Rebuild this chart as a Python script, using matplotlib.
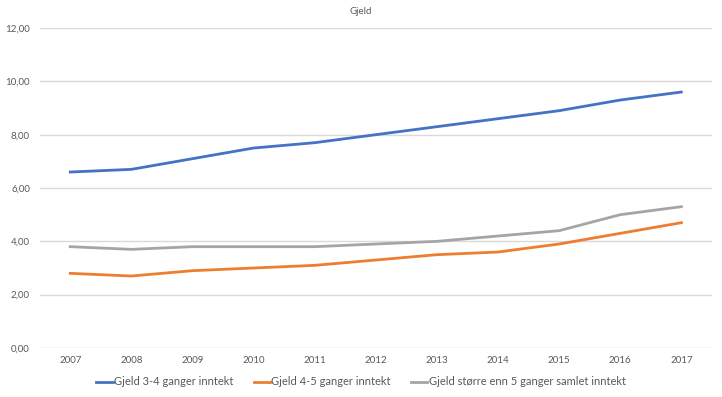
import matplotlib

matplotlib.use("Agg")
import matplotlib.pyplot as plt
import numpy as np

years = ["2007", "2008", "2009", "2010", "2011", "2012",
         "2013", "2014", "2015", "2016", "2017"]
gjeld_3_4 = [6.6, 6.7, 7.1, 7.5, 7.7, 8.0, 8.3, 8.6, 8.9, 9.3, 9.6]
gjeld_4_5 = [2.8, 2.7, 2.9, 3.0, 3.1, 3.3, 3.5, 3.6, 3.9, 4.3, 4.7]
gjeld_5 = [3.8, 3.7, 3.8, 3.8, 3.8, 3.9, 4.0, 4.2, 4.4, 5.0, 5.3]
labels = ["Gjeld 3-4 ganger inntekt", "Gjeld 4-5 ganger inntekt",
          "Gjeld større enn 5 ganger samlet inntekt"]
colors = ["#4472C4", "#ED7D31", "#A5A5A5"]

plt.rcParams["font.family"] = ["Lato", "DejaVu Sans"]

fig = plt.figure(figsize=(7.22, 3.97), dpi=100)
ax = fig.add_axes([0.055, 0.1234, 0.931, 0.806])

x = np.arange(len(years))
for vals, lab, col in zip([gjeld_3_4, gjeld_4_5, gjeld_5], labels, colors):
    ax.plot(x, vals, color=col, linewidth=2, label=lab)

ax.set_xlim(-0.5, len(years) - 0.5)
ax.set_ylim(0, 12)
ax.set_yticks(np.arange(0, 13, 2))
ax.set_yticklabels([f"{v:.2f}".replace(".", ",") for v in np.arange(0, 13, 2)])
ax.set_xticks(x)
ax.set_xticklabels(years)
ax.tick_params(length=0, labelsize=7, colors="#595959", pad=6)
ax.tick_params(axis="y", pad=7)
ax.grid(axis="y", color="#D9D9D9", linewidth=1)
ax.set_axisbelow(True)
for s in ax.spines.values():
    s.set_visible(False)

fig.text(0.5, 0.97, "Gjeld", ha="center", va="center", fontsize=7, color="#595959")
fig.legend(loc="center", bbox_to_anchor=(0.5, 0.038), ncol=3, frameon=False,
           fontsize=8, handlelength=1.5, handletextpad=0.1, columnspacing=1.8,
           labelcolor="#595959")

fig.savefig("out.png", dpi=100)
